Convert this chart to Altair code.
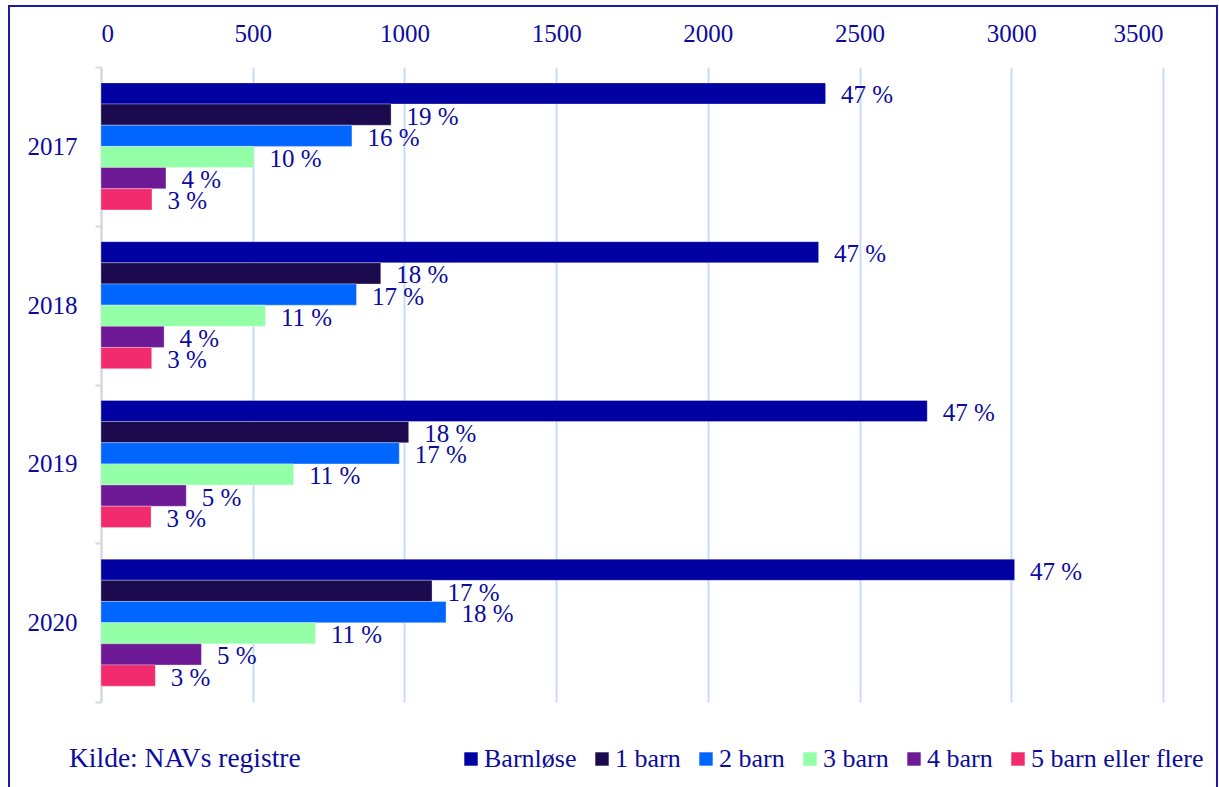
import altair as alt
import pandas as pd

# Recipients by number of children, per year
years = ["2017", "2018", "2019", "2020"]
series = ["Barnløse", "1 barn", "2 barn", "3 barn", "4 barn", "5 barn eller flere"]
colors = ["#0202A2", "#1B0A4E", "#0066FF", "#93FFA6", "#6E1A96", "#F22A6E"]

barnlose = [2388, 2365, 2723, 3011]
barn_1 = [956, 922, 1014, 1091]
barn_2 = [827, 842, 983, 1137]
barn_3 = [504, 542, 635, 707]
barn_4 = [214, 208, 281, 331]
barn_5 = [168, 167, 165, 179]

# Share of each group within the year, as printed next to the bars
pct_barnlose = [47, 47, 47, 47]
pct_1 = [19, 18, 18, 17]
pct_2 = [16, 17, 17, 18]
pct_3 = [10, 11, 11, 11]
pct_4 = [4, 4, 5, 5]
pct_5 = [3, 3, 3, 3]

source_note = "Kilde: NAVs registre"

values = [barnlose, barn_1, barn_2, barn_3, barn_4, barn_5]
shares = [pct_barnlose, pct_1, pct_2, pct_3, pct_4, pct_5]

rows = []
for s, vals, pcts in zip(series, values, shares):
    for y, v, p in zip(years, vals, pcts):
        rows.append({"year": y, "group": s, "count": v, "label": f"{p} %"})
df = pd.DataFrame(rows)

FONT = "Liberation Serif"
TEXT = "#0C0C9C"

x_enc = alt.X(
    "count:Q",
    scale=alt.Scale(domain=[0, 3500], nice=False, zero=True),
    axis=alt.Axis(
        orient="top",
        values=[0, 500, 1000, 1500, 2000, 2500, 3000, 3500],
        format="d",
        title=None,
        domain=False,
        ticks=False,
        tickSize=0,
        labelPadding=21,
        labelFontSize=25,
        labelFont=FONT,
        labelColor=TEXT,
        grid=True,
        gridColor="#C8DCF7",
        gridWidth=2,
    ),
)
y_enc = alt.Y(
    "year:N",
    sort=years,
    scale=alt.Scale(paddingInner=0, paddingOuter=0),
    axis=alt.Axis(
        title=None,
        domainColor="#D9D9D9",
        domainWidth=2,
        tickColor="#D9D9D9",
        tickWidth=2,
        tickSize=6,
        tickBand="extent",
        labelPadding=18,
        labelFontSize=25,
        labelFont=FONT,
        labelColor=TEXT,
        grid=False,
    ),
)
yoff_enc = alt.YOffset(
    "group:N",
    sort=series,
    scale=alt.Scale(domain=series, paddingInner=0, paddingOuter=0.75),
)

bars = (
    alt.Chart(df)
    .mark_bar(stroke="#FFFFFF", strokeWidth=0.6, strokeOpacity=0.5)
    .encode(
        x=x_enc,
        y=y_enc,
        yOffset=yoff_enc,
        color=alt.Color(
            "group:N",
            scale=alt.Scale(domain=series, range=colors),
            sort=series,
            legend=alt.Legend(
                title=None,
                orient="none",
                direction="horizontal",
                legendX=357,
                legendY=679,
                padding=0,
                symbolType="square",
                symbolSize=180,
                symbolStrokeWidth=0,
                labelOffset=0,
                columnPadding=12,
                labelFontSize=26,
                labelFont=FONT,
                labelColor=TEXT,
                labelLimit=400,
            ),
        ),
    )
)

labels = (
    alt.Chart(df)
    .mark_text(
        align="left",
        baseline="alphabetic",
        dx=15.5,
        dy=10,
        fontSize=25,
        font=FONT,
        color=TEXT,
    )
    .encode(x="count:Q", y=alt.Y("year:N", sort=years), yOffset=yoff_enc, text="label:N")
)

note = (
    alt.Chart(pd.DataFrame({"t": [source_note]}))
    .mark_text(align="left", baseline="alphabetic", fontSize=27.5, font=FONT, color=TEXT)
    .encode(x=alt.value(-32), y=alt.value(700), text="t:N")
)

frame = (
    alt.Chart(pd.DataFrame({"f": [0]}))
    .mark_rect(filled=False, stroke="#1A1AA8", strokeWidth=2)
    .encode(x=alt.value(-92), x2=alt.value(1116), y=alt.value(-61), y2=alt.value(760))
)

chart = (
    alt.layer(frame, bars, labels, note)
    .properties(
        width=1062,
        height=635,
        autosize=alt.AutoSizeParams(type="none"),
        padding={"left": 101, "top": 67, "right": 56, "bottom": 85},
        background="#FFFFFF",
    )
    .configure_view(stroke=None)
)

chart.save("out.html", embed_options={"renderer": "svg", "actions": False})
